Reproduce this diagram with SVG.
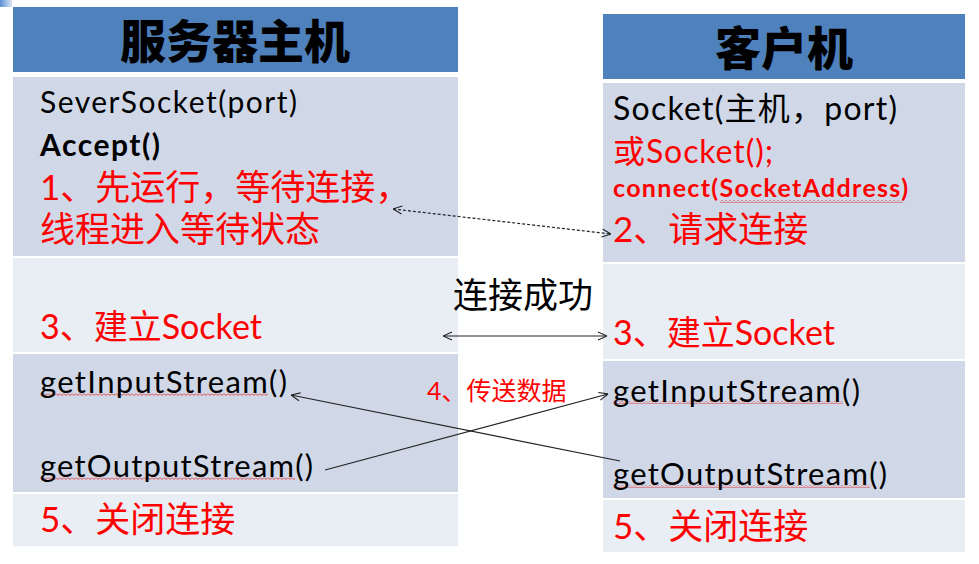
<svg xmlns="http://www.w3.org/2000/svg" width="979" height="564" viewBox="0 0 979 564">
<style>
.hdr{fill:#4F81BD}
.dk{fill:#D0D8E8}
.lt{fill:#E9EDF4}
.ht{font-family:"Noto Sans CJK SC",sans-serif;font-weight:900;font-size:46px;fill:#000;text-anchor:middle}
.lat{font-family:Lato,"Noto Sans CJK SC",sans-serif;fill:#000}
.cjk{font-family:Lato,"Noto Sans CJK SC",sans-serif;fill:#FF0000}
.ln{fill:none;stroke:#222;stroke-width:1.2}
</style>
<defs>
<marker id="arr" viewBox="0 0 10 10" refX="10" refY="5" markerWidth="10" markerHeight="10" markerUnits="userSpaceOnUse" orient="auto-start-reverse">
<path d="M1,1 L10,5 L1,9" fill="none" stroke="#222" stroke-width="1.1"/>
</marker>
<pattern id="wave" x="0" y="0" width="4" height="3" patternUnits="userSpaceOnUse">
<polyline points="0,0.5 2,2.5 4,0.5" fill="none" stroke="#E03030" stroke-width="0.9"/>
</pattern>
<linearGradient id="corner" x1="0" y1="0" x2="1" y2="0">
<stop offset="0" stop-color="#5B8FD6"/>
<stop offset="1" stop-color="#DCE6F4"/>
</linearGradient>
</defs>
<rect width="979" height="564" fill="#FFFFFF"/>
<rect x="0" y="0" width="12" height="7" fill="url(#corner)"/>

<g id="server-header">
<rect class="hdr" x="13" y="7" width="445" height="65"/>
<text class="ht" x="235" y="58">服务器主机</text>
</g>
<g id="server-row1">
<rect class="dk" x="13" y="77" width="445" height="179"/>
<text class="lat" x="40" y="113" font-size="30" textLength="257">SeverSocket(port)</text>
<text class="lat" x="40" y="156" font-size="30" font-weight="700" textLength="120">Accept()</text>
<text class="cjk" x="40" y="200" font-size="35">1、先运行，等待连接，</text>
<text class="cjk" x="40" y="242" font-size="35">线程进入等待状态</text>
</g>
<g id="server-row2">
<rect class="lt" x="13" y="258" width="445" height="94"/>
<text class="cjk" x="40" y="339" font-size="34">3、建立Socket</text>
</g>
<g id="server-row3">
<rect class="dk" x="13" y="354" width="445" height="138"/>
<rect x="40" y="393" width="228" height="3" fill="url(#wave)"/>
<text class="lat" x="40" y="393" font-size="31" textLength="247">getInputStream()</text>
<rect x="40" y="477" width="255" height="3" fill="url(#wave)"/>
<text class="lat" x="40" y="477" font-size="31" textLength="273">getOutputStream()</text>
</g>
<g id="server-row4">
<rect class="lt" x="13" y="494" width="445" height="52"/>
<text class="cjk" x="40" y="532" font-size="35">5、关闭连接</text>
</g>

<g id="client-header">
<rect class="hdr" x="603" y="14" width="362" height="65"/>
<text class="ht" x="784" y="65">客户机</text>
</g>
<g id="client-row1">
<rect class="dk" x="603" y="83" width="362" height="179"/>
<text class="lat" x="613" y="120" font-size="32" textLength="284">Socket(主机，port)</text>
<text class="cjk" x="613" y="163" font-size="32" textLength="160">或Socket();</text>
<rect x="720" y="200" width="183" height="3" fill="url(#wave)"/>
<text class="cjk" x="613" y="197" font-size="25" font-weight="700" textLength="295">connect(SocketAddress)</text>
<text class="cjk" x="613" y="242" font-size="35">2、请求连接</text>
</g>
<g id="client-row2">
<rect class="lt" x="603" y="264" width="362" height="95"/>
<text class="cjk" x="613" y="345" font-size="34">3、建立Socket</text>
</g>
<g id="client-row3">
<rect class="dk" x="603" y="361" width="362" height="137"/>
<rect x="613" y="401" width="230" height="3" fill="url(#wave)"/>
<text class="lat" x="613" y="402" font-size="31" textLength="247">getInputStream()</text>
<rect x="613" y="485" width="257" height="3" fill="url(#wave)"/>
<text class="lat" x="613" y="485" font-size="31" textLength="274">getOutputStream()</text>
</g>
<g id="client-row4">
<rect class="lt" x="603" y="500" width="362" height="52"/>
<text class="cjk" x="613" y="539" font-size="35">5、关闭连接</text>
</g>

<g id="label-connected">
<text class="lat" x="453" y="308" font-size="35">连接成功</text>
</g>
<g id="label-transfer">
<text class="cjk" x="427" y="400" font-size="25">4、传送数据</text>
</g>

<g id="connectors">
<line class="ln" x1="393" y1="209" x2="611" y2="234" stroke-dasharray="3,2" stroke-width="1" marker-start="url(#arr)" marker-end="url(#arr)"/>
<line class="ln" x1="443" y1="336" x2="607" y2="336" marker-start="url(#arr)" marker-end="url(#arr)"/>
<line class="ln" x1="620" y1="461" x2="291" y2="395" marker-end="url(#arr)"/>
<line class="ln" x1="325" y1="470" x2="608" y2="394" marker-end="url(#arr)"/>
</g>
</svg>
